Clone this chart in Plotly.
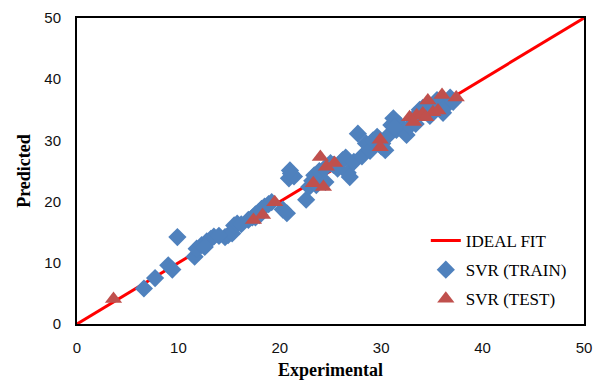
import plotly.graph_objects as go

ideal_x = [0, 50]
ideal_y = [0, 50]

train_x = [6.6, 7.7, 9.0, 9.4, 9.9, 11.6, 11.8, 12.3, 12.8, 13.2, 13.5, 14.6, 14.9, 15.3, 15.5, 15.8,
           16.9, 17.3, 17.6, 17.9, 18.2, 18.5, 18.9, 17.6, 18.0, 20.3, 20.7, 20.9, 21.1, 21.4, 21.0,
           22.6, 22.9, 23.2, 23.4, 23.9, 24.4, 25.0, 25.3, 25.7, 26.2, 26.5, 26.7, 26.9, 27.3, 27.7,
           28.1, 28.5, 28.9, 29.2, 29.6, 30.1, 30.4, 30.7, 31.0, 31.2, 31.5, 31.8, 32.1, 32.5, 32.8,
           33.1, 33.4, 33.8, 34.1, 34.4, 34.8, 35.2, 35.5, 36.1, 36.4, 36.8, 37.1, 30.0, 31.3, 24.5,
           23.6, 19.2, 16.2, 14.0, 12.6]
train_y = [5.8, 7.5, 9.6, 8.9, 14.2, 11.0, 12.3, 12.9, 13.5, 13.9, 14.3, 14.2, 14.5, 14.8, 16.1, 16.4,
           17.0, 17.4, 17.9, 18.3, 18.8, 19.2, 19.6, 17.4, 17.8, 18.7, 18.1, 23.8, 24.6, 24.1, 25.1,
           20.3, 22.4, 23.4, 24.3, 25.0, 25.4, 26.3, 26.0, 25.4, 26.8, 27.2, 24.7, 24.0, 26.5, 31.1,
           27.4, 29.5, 28.3, 30.0, 30.6, 29.5, 28.4, 30.8, 32.5, 33.6, 31.7, 32.6, 31.9, 30.9, 32.3,
           33.5, 32.7, 35.0, 35.3, 34.6, 34.0, 35.6, 36.6, 34.5, 35.6, 37.0, 36.3, 29.0, 32.2, 23.2,
           22.7, 19.9, 16.3, 14.4, 12.6]

test_x = [3.6, 17.4, 18.3, 19.5, 23.3, 24.0, 24.3, 24.6, 25.4, 29.9, 29.9, 32.8, 33.5, 34.1, 34.6,
          35.1, 35.6, 36.0, 37.4, 33.2, 34.4]
test_y = [4.1, 17.0, 17.8, 19.9, 23.0, 27.3, 22.4, 25.7, 26.3, 30.1, 28.9, 33.8, 34.1, 34.4, 36.5,
          34.6, 34.9, 37.4, 37.0, 33.0, 33.8]

tick_vals = [0, 10, 20, 30, 40, 50]

fig = go.Figure()
fig.add_trace(go.Scatter(x=ideal_x, y=ideal_y, mode="lines", name="IDEAL FIT",
                         line=dict(color="#FF0000", width=3), legendgroup="a"))
fig.add_trace(go.Scatter(x=train_x, y=train_y, mode="markers", name="SVR (TRAIN)",
                         marker=dict(symbol="diamond", size=14, color="#4F81BD"), legendgroup="b"))
fig.add_trace(go.Scatter(x=test_x, y=test_y, mode="markers", name="SVR (TEST)",
                         marker=dict(symbol="triangle-up", size=15, color="#C0504D"), legendgroup="c"))

axis_common = dict(range=[0, 50], tickvals=tick_vals, showgrid=False, zeroline=False,
                   showline=True, linecolor="black", linewidth=2, mirror=True, ticks="",
                   automargin=False,
                   tickfont=dict(family="Liberation Sans, Arial", size=15, color="#111"))

fig.update_layout(
    width=596, height=382,
    margin=dict(l=77, r=12, t=18, b=58),
    paper_bgcolor="white", plot_bgcolor="white",
    xaxis=dict(title=dict(text="Experimental", font=dict(family="Liberation Serif", size=18, color="black", weight="bold"), standoff=8),
               ticklabelstandoff=9, **axis_common),
    yaxis=dict(title=dict(text="Predicted", font=dict(family="Liberation Serif", size=18, color="black", weight="bold"), standoff=9),
               ticklabelstandoff=11, **axis_common),
    legend=dict(x=0.688, y=0.33, xanchor="left", yanchor="top", bgcolor="rgba(0,0,0,0)",
                font=dict(family="Liberation Serif", size=17, color="black"),
                traceorder="grouped", tracegroupgap=4),
    showlegend=True,
)

fig.write_html("out.html", config={"displayModeBar": False},
               post_script="document.body.style.margin='0';document.body.style.overflow='hidden';")
